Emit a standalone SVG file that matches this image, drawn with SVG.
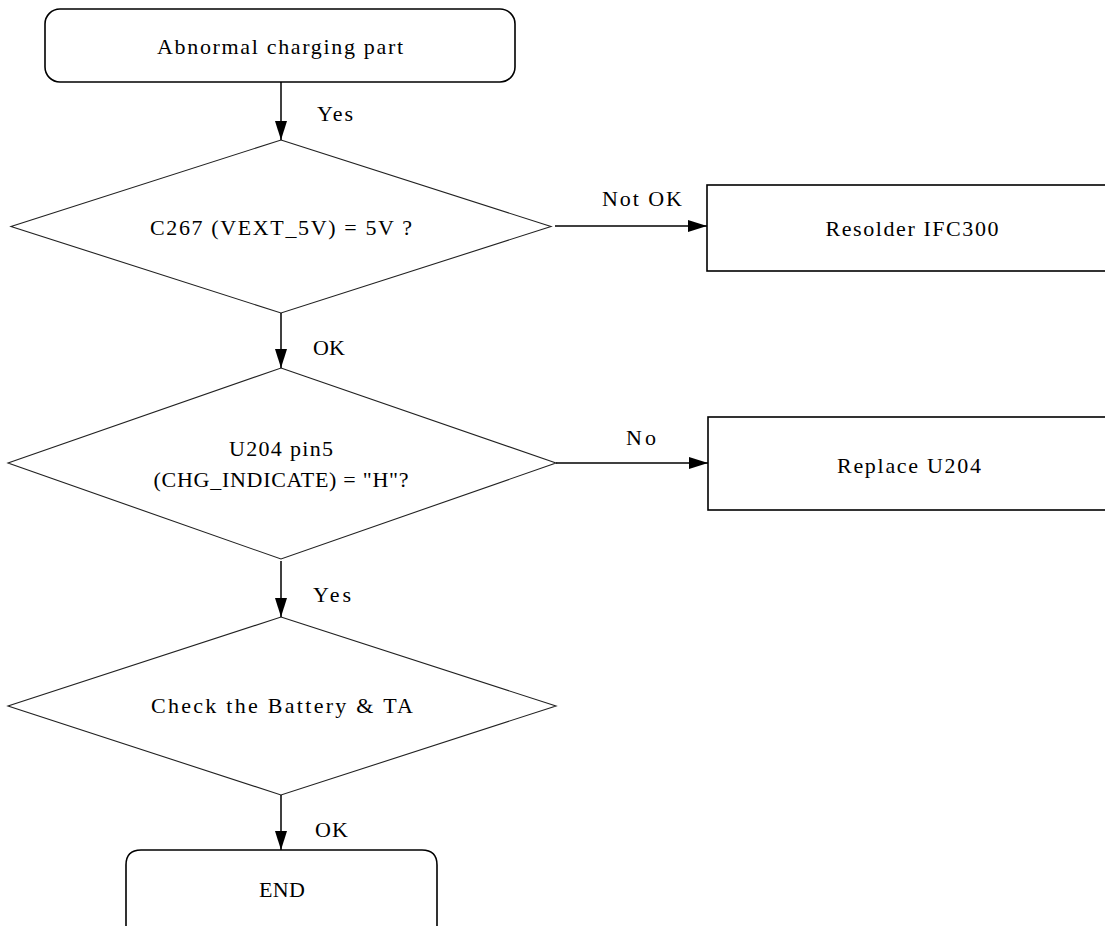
<svg xmlns="http://www.w3.org/2000/svg" width="1105" height="926" viewBox="0 0 1105 926">
<style>
.box{fill:#fff;stroke:#000;stroke-width:1.6}
.dia{fill:#fff;stroke:#222;stroke-width:1.1}
.con{stroke:#000;stroke-width:1.5;fill:none}
text{font-family:"Liberation Serif","Times New Roman",serif;font-size:22px;fill:#000}
.c{text-anchor:middle}
</style>
<defs>
<marker id="arr" markerUnits="userSpaceOnUse" markerWidth="20" markerHeight="12" refX="19" refY="6" orient="auto">
<path d="M0,0 L19,6 L0,12 z" fill="#000"/>
</marker>
</defs>
<rect width="1105" height="926" fill="#fff"/>
<g id="start">
<rect class="box" x="45" y="9" width="470" height="73" rx="15" ry="15"/>
<text class="c" x="280" y="54" textLength="246" lengthAdjust="spacing">Abnormal charging part</text>
</g>
<g id="d1">
<polygon class="dia" points="281,140 551,226.5 281,313 11,226.5"/>
<text class="c" x="281" y="235" textLength="262" lengthAdjust="spacing">C267 (VEXT_5V) = 5V ?</text>
</g>
<g id="resolder">
<rect class="box" x="707" y="185" width="410" height="86"/>
<text class="c" x="912" y="236" textLength="173" lengthAdjust="spacing">Resolder IFC300</text>
</g>
<g id="d2">
<polygon class="dia" points="281,368 556,463 281,559 8,463"/>
<text class="c" x="281" y="456" textLength="104" lengthAdjust="spacing">U204 pin5</text>
<text class="c" x="281" y="487" textLength="255" lengthAdjust="spacing">(CHG_INDICATE) = "H"?</text>
</g>
<g id="replace">
<rect class="box" x="708" y="417" width="410" height="93"/>
<text class="c" x="909" y="473" textLength="144" lengthAdjust="spacing">Replace U204</text>
</g>
<g id="d3">
<polygon class="dia" points="281,617 556,706 281,795 8,706"/>
<text class="c" x="282" y="713" textLength="262" lengthAdjust="spacing">Check the Battery &amp; TA</text>
</g>
<g id="end">
<path class="box" d="M126,935 L126,865 Q126,850 141,850 L422,850 Q437,850 437,865 L437,935"/>
<text class="c" x="282" y="897" textLength="46" lengthAdjust="spacing">END</text>
</g>
<g id="connectors">
<line class="con" x1="281" y1="82" x2="281" y2="140" marker-end="url(#arr)"/>
<line class="con" x1="555" y1="226" x2="707" y2="226" marker-end="url(#arr)"/>
<line class="con" x1="281" y1="313" x2="281" y2="368" marker-end="url(#arr)"/>
<line class="con" x1="556" y1="463" x2="708" y2="463" marker-end="url(#arr)"/>
<line class="con" x1="281" y1="561" x2="281" y2="617" marker-end="url(#arr)"/>
<line class="con" x1="281" y1="795" x2="281" y2="850" marker-end="url(#arr)"/>
<text x="317" y="121" textLength="36" lengthAdjust="spacing">Yes</text>
<text x="602" y="206" textLength="80" lengthAdjust="spacing">Not OK</text>
<text x="313" y="355" textLength="32" lengthAdjust="spacing">OK</text>
<text x="626" y="445" textLength="30" lengthAdjust="spacing">No</text>
<text x="313" y="602" textLength="38" lengthAdjust="spacing">Yes</text>
<text x="315" y="837" textLength="33" lengthAdjust="spacing">OK</text>
</g>
</svg>
